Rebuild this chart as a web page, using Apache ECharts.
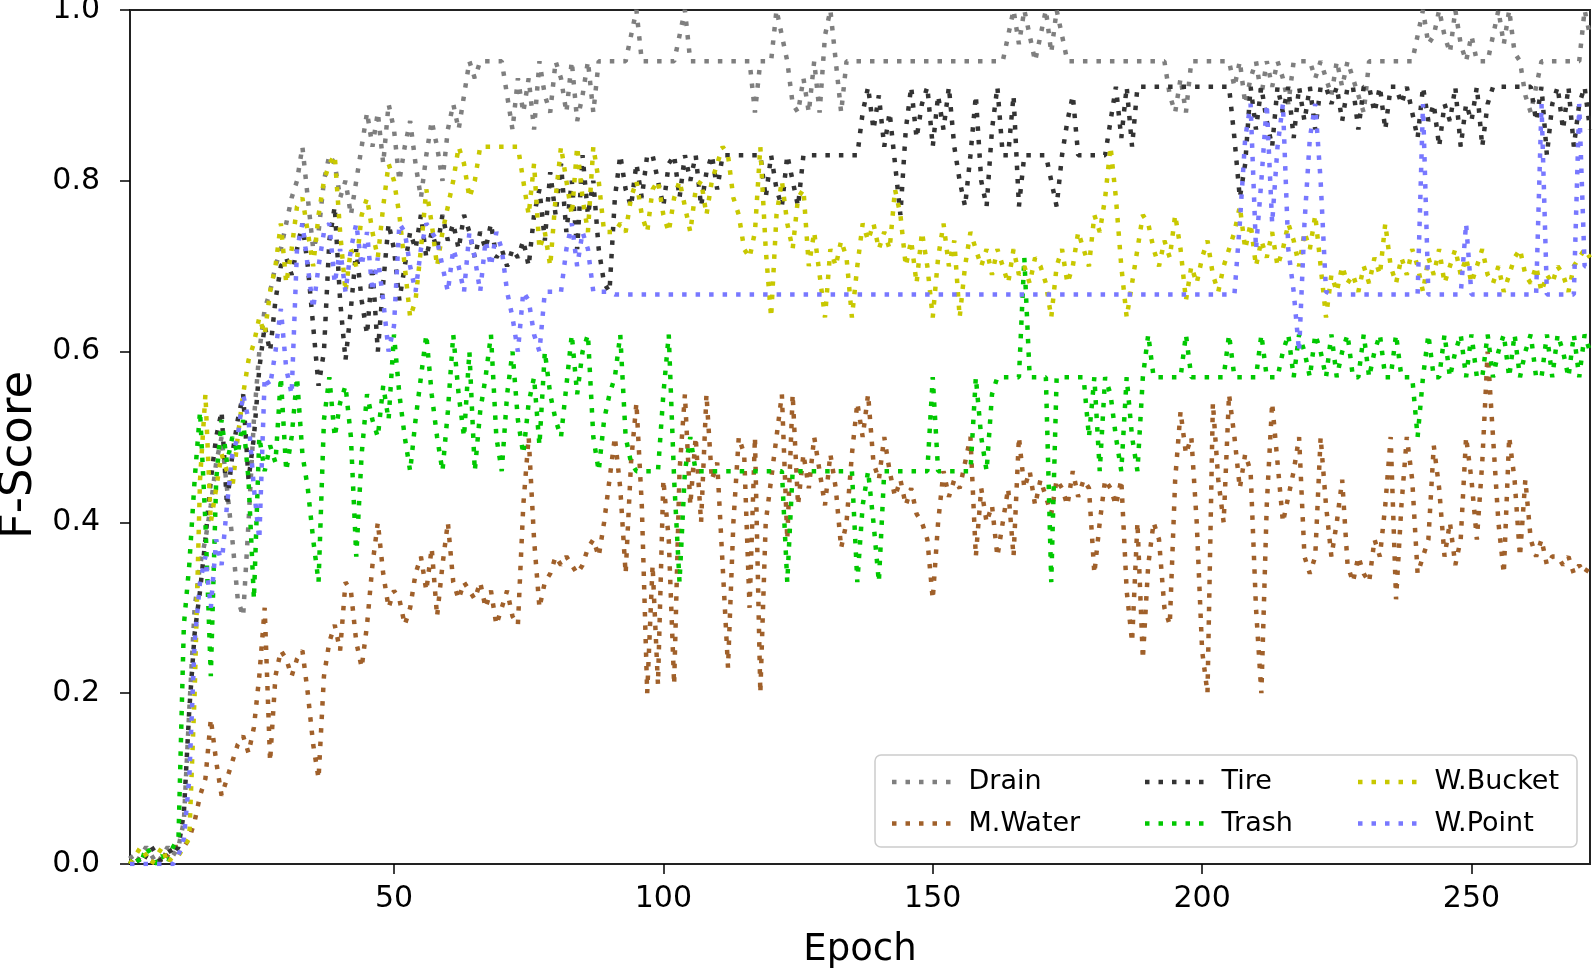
<!DOCTYPE html>
<html>
<head>
<meta charset="utf-8">
<script src="https://cdn.jsdelivr.net/npm/echarts@6/dist/echarts.min.js"></script>
<style>
html,body{margin:0;padding:0;background:#fff;}
#chart{width:1594px;height:969px;}
</style>
</head>
<body>
<div id="chart"></div>
<script>
// ---- data (one value per epoch, epoch 1..272) ----
const seriesNames = ['Drain', 'M.Water', 'Tire', 'Trash', 'W.Bucket', 'W.Point'];
const xTicks = [50, 100, 150, 200, 250];
const yTicks = [0, 0.2, 0.4, 0.6, 0.8, 1.0];

const drain = [
0.01,0.00,0.01,0.02,0.01,0.00,0.01,0.02,0.01,0.02,
0.05,0.18,0.30,0.35,0.38,0.42,0.47,0.50,0.44,0.38,
0.31,0.29,0.40,0.52,0.60,0.65,0.67,0.70,0.72,0.75,
0.78,0.80,0.84,0.78,0.72,0.74,0.80,0.83,0.82,0.78,
0.80,0.76,0.80,0.84,0.88,0.84,0.88,0.82,0.89,0.86,
0.80,0.84,0.87,0.82,0.78,0.83,0.87,0.84,0.80,0.86,
0.89,0.86,0.90,0.94,0.92,0.94,0.94,0.94,0.94,0.94,
0.90,0.86,0.92,0.88,0.92,0.86,0.94,0.90,0.88,0.94,
0.92,0.88,0.94,0.87,0.90,0.94,0.88,0.94,0.94,0.94,
0.94,0.94,0.94,0.97,1.00,0.94,0.94,0.94,0.94,0.94,
0.94,0.94,0.97,1.00,0.94,0.94,0.94,0.94,0.94,0.94,
0.94,0.94,0.94,0.94,0.94,0.94,0.88,0.94,0.94,0.94,
1.00,0.97,0.94,0.89,0.88,0.92,0.88,0.94,0.88,0.97,
1.00,0.94,0.88,0.94,0.94,0.94,0.94,0.94,0.94,0.94,
0.94,0.94,0.94,0.94,0.94,0.94,0.94,0.94,0.94,0.94,
0.94,0.94,0.94,0.94,0.94,0.94,0.94,0.94,0.94,0.94,
0.94,0.94,0.94,0.97,1.00,0.96,1.00,0.97,0.94,0.97,
1.00,0.95,1.00,0.97,0.94,0.94,0.94,0.94,0.94,0.94,
0.94,0.94,0.94,0.94,0.94,0.94,0.94,0.94,0.94,0.94,
0.94,0.94,0.94,0.90,0.88,0.92,0.88,0.94,0.94,0.94,
0.94,0.94,0.94,0.94,0.94,0.91,0.94,0.89,0.92,0.94,
0.90,0.94,0.91,0.94,0.92,0.89,0.94,0.94,0.94,0.94,
0.92,0.94,0.92,0.90,0.94,0.91,0.94,0.92,0.90,0.88,
0.94,0.94,0.94,0.94,0.94,0.94,0.94,0.94,0.94,0.97,
1.00,0.96,0.97,1.00,0.97,0.95,1.00,0.96,0.94,0.97,
0.94,0.94,0.94,0.97,1.00,0.96,1.00,0.95,0.94,0.90,
0.88,0.91,0.94,0.94,0.94,0.94,0.94,0.94,0.94,0.94,
1.00,0.97
];

const mWater = [
0.00,0.01,0.00,0.01,0.00,0.01,0.00,0.01,0.02,0.02,
0.02,0.03,0.05,0.08,0.10,0.17,0.12,0.08,0.10,0.12,
0.14,0.15,0.13,0.16,0.22,0.30,0.12,0.22,0.25,0.24,
0.22,0.24,0.25,0.20,0.14,0.10,0.22,0.26,0.28,0.25,
0.33,0.32,0.26,0.23,0.28,0.35,0.40,0.34,0.30,0.32,
0.31,0.28,0.30,0.34,0.36,0.32,0.37,0.29,0.35,0.40,
0.33,0.31,0.33,0.32,0.31,0.33,0.30,0.32,0.28,0.30,
0.32,0.29,0.28,0.42,0.50,0.38,0.30,0.33,0.34,0.36,
0.35,0.36,0.35,0.34,0.35,0.37,0.38,0.36,0.40,0.45,
0.50,0.44,0.34,0.47,0.54,0.42,0.20,0.35,0.21,0.45,
0.38,0.21,0.46,0.55,0.42,0.50,0.40,0.55,0.45,0.47,
0.35,0.23,0.40,0.50,0.48,0.30,0.50,0.20,0.40,0.45,
0.50,0.55,0.38,0.55,0.42,0.48,0.44,0.50,0.46,0.42,
0.48,0.44,0.37,0.40,0.48,0.54,0.50,0.55,0.47,0.45,
0.50,0.46,0.43,0.45,0.42,0.44,0.41,0.40,0.38,0.31,
0.40,0.46,0.43,0.45,0.44,0.47,0.50,0.36,0.44,0.40,
0.42,0.36,0.40,0.44,0.36,0.50,0.44,0.46,0.42,0.45,
0.43,0.41,0.45,0.44,0.42,0.46,0.43,0.45,0.44,0.34,
0.40,0.45,0.44,0.42,0.45,0.32,0.26,0.40,0.24,0.35,
0.40,0.38,0.30,0.28,0.45,0.53,0.48,0.50,0.40,0.25,
0.20,0.54,0.45,0.40,0.55,0.50,0.44,0.48,0.46,0.30,
0.20,0.42,0.54,0.47,0.40,0.43,0.46,0.50,0.36,0.34,
0.36,0.50,0.42,0.36,0.40,0.45,0.35,0.33,0.36,0.34,
0.33,0.38,0.36,0.42,0.50,0.31,0.42,0.50,0.45,0.34,
0.36,0.38,0.49,0.44,0.36,0.40,0.35,0.38,0.50,0.45,
0.38,0.47,0.60,0.50,0.40,0.34,0.50,0.45,0.36,0.45,
0.38,0.36,0.38,0.35,0.36,0.36,0.35,0.36,0.34,0.35,
0.34,0.35
];

const tire = [
0.00,0.01,0.00,0.01,0.02,0.01,0.00,0.02,0.01,0.02,
0.06,0.18,0.27,0.32,0.38,0.45,0.50,0.53,0.42,0.48,
0.52,0.55,0.45,0.50,0.58,0.63,0.60,0.66,0.70,0.71,
0.69,0.72,0.75,0.70,0.63,0.56,0.60,0.73,0.77,0.66,
0.59,0.65,0.72,0.66,0.62,0.70,0.60,0.68,0.75,0.72,
0.66,0.70,0.74,0.72,0.76,0.71,0.74,0.72,0.76,0.73,
0.75,0.72,0.76,0.74,0.71,0.74,0.72,0.75,0.71,0.72,
0.70,0.72,0.71,0.73,0.70,0.76,0.79,0.73,0.81,0.76,
0.82,0.74,0.80,0.72,0.83,0.76,0.80,0.72,0.68,0.67,
0.78,0.83,0.79,0.77,0.82,0.78,0.83,0.83,0.80,0.77,
0.82,0.83,0.78,0.83,0.80,0.83,0.77,0.81,0.83,0.79,
0.83,0.83,0.83,0.83,0.83,0.83,0.83,0.83,0.78,0.83,
0.79,0.77,0.83,0.80,0.77,0.83,0.83,0.83,0.83,0.83,
0.83,0.83,0.83,0.83,0.83,0.83,0.88,0.91,0.86,0.90,
0.84,0.88,0.82,0.76,0.86,0.91,0.85,0.89,0.91,0.84,
0.90,0.86,0.91,0.84,0.80,0.77,0.83,0.90,0.80,0.77,
0.86,0.91,0.83,0.83,0.90,0.77,0.83,0.83,0.83,0.83,
0.83,0.80,0.77,0.83,0.87,0.90,0.83,0.83,0.83,0.83,
0.83,0.83,0.87,0.91,0.85,0.91,0.84,0.91,0.91,0.91,
0.91,0.91,0.91,0.91,0.91,0.91,0.91,0.91,0.91,0.91,
0.91,0.91,0.91,0.91,0.91,0.85,0.78,0.82,0.91,0.86,
0.91,0.87,0.84,0.91,0.88,0.91,0.85,0.91,0.87,0.91,
0.86,0.91,0.91,0.89,0.91,0.87,0.91,0.91,0.86,0.91,
0.91,0.88,0.91,0.86,0.91,0.91,0.89,0.91,0.88,0.85,
0.91,0.87,0.89,0.84,0.89,0.87,0.91,0.84,0.89,0.87,
0.91,0.84,0.89,0.91,0.91,0.91,0.91,0.91,0.91,0.91,
0.91,0.87,0.91,0.83,0.89,0.91,0.86,0.91,0.84,0.89,
0.91,0.86
];

const trash = [
0.00,0.01,0.00,0.02,0.01,0.00,0.01,0.00,0.02,0.03,
0.28,0.35,0.45,0.53,0.40,0.22,0.45,0.52,0.47,0.50,
0.48,0.52,0.45,0.31,0.50,0.46,0.49,0.47,0.57,0.46,
0.50,0.57,0.48,0.44,0.38,0.33,0.52,0.57,0.50,0.54,
0.56,0.50,0.36,0.48,0.55,0.52,0.50,0.56,0.52,0.62,
0.55,0.50,0.46,0.52,0.57,0.62,0.55,0.50,0.46,0.53,
0.62,0.55,0.50,0.60,0.46,0.53,0.57,0.62,0.50,0.46,
0.55,0.60,0.52,0.48,0.54,0.57,0.49,0.60,0.55,0.52,
0.50,0.56,0.62,0.55,0.60,0.62,0.50,0.46,0.52,0.55,
0.57,0.62,0.50,0.47,0.46,0.46,0.46,0.46,0.46,0.55,
0.62,0.45,0.33,0.46,0.50,0.46,0.46,0.46,0.46,0.46,
0.46,0.46,0.46,0.46,0.46,0.46,0.46,0.46,0.46,0.46,
0.46,0.46,0.33,0.46,0.46,0.46,0.46,0.46,0.46,0.46,
0.46,0.46,0.46,0.46,0.46,0.33,0.42,0.46,0.40,0.33,
0.46,0.46,0.46,0.46,0.46,0.46,0.46,0.46,0.46,0.57,
0.46,0.46,0.46,0.46,0.46,0.46,0.46,0.57,0.50,0.46,
0.55,0.57,0.57,0.57,0.57,0.57,0.71,0.57,0.57,0.57,
0.57,0.33,0.57,0.57,0.57,0.57,0.57,0.57,0.50,0.57,
0.46,0.57,0.55,0.50,0.46,0.57,0.50,0.46,0.57,0.62,
0.57,0.57,0.57,0.57,0.57,0.57,0.62,0.57,0.57,0.57,
0.57,0.57,0.57,0.57,0.62,0.57,0.57,0.57,0.57,0.57,
0.62,0.57,0.57,0.57,0.60,0.62,0.57,0.62,0.60,0.57,
0.62,0.60,0.57,0.62,0.57,0.60,0.62,0.57,0.57,0.62,
0.57,0.60,0.62,0.57,0.57,0.62,0.57,0.57,0.57,0.50,
0.57,0.62,0.57,0.57,0.62,0.57,0.60,0.62,0.57,0.62,
0.57,0.57,0.62,0.57,0.60,0.62,0.57,0.62,0.57,0.60,
0.62,0.57,0.57,0.62,0.57,0.62,0.60,0.57,0.62,0.57,
0.62,0.60
];

const wBucket = [
0.00,0.01,0.02,0.01,0.00,0.01,0.02,0.00,0.01,0.01,
0.02,0.03,0.20,0.45,0.55,0.40,0.44,0.48,0.46,0.44,
0.50,0.55,0.59,0.61,0.64,0.62,0.67,0.70,0.75,0.68,
0.72,0.77,0.78,0.74,0.70,0.76,0.80,0.82,0.83,0.74,
0.67,0.72,0.70,0.76,0.78,0.74,0.71,0.77,0.82,0.80,
0.76,0.70,0.64,0.66,0.72,0.79,0.75,0.70,0.74,0.77,
0.80,0.84,0.82,0.78,0.80,0.84,0.84,0.84,0.84,0.84,
0.84,0.84,0.84,0.80,0.76,0.82,0.72,0.74,0.70,0.78,
0.84,0.80,0.76,0.84,0.78,0.74,0.84,0.80,0.74,0.74,
0.74,0.75,0.74,0.78,0.80,0.76,0.74,0.79,0.80,0.76,
0.74,0.78,0.80,0.77,0.74,0.79,0.80,0.76,0.80,0.82,
0.84,0.83,0.78,0.76,0.72,0.71,0.74,0.84,0.72,0.64,
0.76,0.80,0.75,0.72,0.78,0.79,0.70,0.74,0.69,0.64,
0.72,0.70,0.73,0.71,0.64,0.70,0.75,0.73,0.75,0.72,
0.74,0.72,0.79,0.76,0.70,0.73,0.68,0.74,0.70,0.64,
0.71,0.75,0.70,0.73,0.64,0.70,0.74,0.72,0.70,0.72,
0.69,0.72,0.70,0.68,0.72,0.69,0.70,0.68,0.71,0.70,
0.68,0.64,0.70,0.72,0.68,0.70,0.74,0.72,0.70,0.76,
0.74,0.78,0.84,0.78,0.70,0.64,0.68,0.72,0.76,0.75,
0.72,0.70,0.73,0.71,0.76,0.72,0.66,0.70,0.68,0.71,
0.73,0.69,0.67,0.70,0.72,0.74,0.77,0.72,0.75,0.70,
0.73,0.71,0.74,0.70,0.72,0.75,0.73,0.70,0.74,0.72,
0.76,0.70,0.64,0.69,0.67,0.70,0.68,0.69,0.67,0.70,
0.68,0.71,0.69,0.75,0.70,0.68,0.71,0.69,0.72,0.70,
0.67,0.71,0.69,0.72,0.68,0.70,0.72,0.69,0.71,0.68,
0.70,0.72,0.69,0.68,0.70,0.67,0.69,0.71,0.72,0.69,
0.68,0.70,0.67,0.69,0.68,0.70,0.69,0.67,0.70,0.71,
0.72,0.71
];

const wPoint = [
0.00,0.00,0.00,0.00,0.00,0.00,0.00,0.00,0.00,0.01,
0.03,0.10,0.26,0.33,0.36,0.30,0.38,0.35,0.42,0.48,
0.50,0.55,0.52,0.44,0.38,0.57,0.56,0.60,0.65,0.58,
0.55,0.72,0.75,0.70,0.65,0.70,0.74,0.75,0.68,0.72,
0.67,0.72,0.75,0.70,0.74,0.67,0.71,0.66,0.60,0.63,
0.75,0.74,0.70,0.67,0.72,0.75,0.74,0.73,0.70,0.67,
0.72,0.70,0.67,0.74,0.71,0.67,0.73,0.70,0.74,0.72,
0.67,0.64,0.60,0.67,0.66,0.62,0.60,0.67,0.67,0.67,
0.67,0.72,0.75,0.70,0.74,0.72,0.67,0.67,0.67,0.67,
0.667,0.667,0.667,0.667,0.667,0.667,0.667,0.667,0.667,0.667,
0.667,0.667,0.667,0.667,0.667,0.667,0.667,0.667,0.667,0.667,
0.667,0.667,0.667,0.667,0.667,0.667,0.667,0.667,0.667,0.667,
0.667,0.667,0.667,0.667,0.667,0.667,0.667,0.667,0.667,0.667,
0.667,0.667,0.667,0.667,0.667,0.667,0.667,0.667,0.667,0.667,
0.667,0.667,0.667,0.667,0.667,0.667,0.667,0.667,0.667,0.667,
0.667,0.667,0.667,0.667,0.667,0.667,0.667,0.667,0.667,0.667,
0.667,0.667,0.667,0.667,0.667,0.667,0.667,0.667,0.667,0.667,
0.667,0.667,0.667,0.667,0.667,0.667,0.667,0.667,0.667,0.667,
0.667,0.667,0.667,0.667,0.667,0.667,0.667,0.667,0.667,0.667,
0.667,0.667,0.667,0.667,0.667,0.667,0.667,0.667,0.667,0.667,
0.667,0.667,0.667,0.667,0.667,0.667,0.75,0.85,0.89,0.72,
0.80,0.89,0.75,0.84,0.89,0.72,0.67,0.60,0.75,0.85,
0.89,0.80,0.67,0.667,0.667,0.667,0.667,0.667,0.667,0.667,
0.667,0.667,0.667,0.667,0.667,0.667,0.667,0.667,0.667,0.667,
0.89,0.667,0.667,0.667,0.667,0.667,0.667,0.667,0.75,0.667,
0.667,0.667,0.667,0.667,0.667,0.667,0.667,0.667,0.667,0.667,
0.667,0.667,0.89,0.667,0.667,0.667,0.667,0.667,0.667,0.89,
0.70,0.70
];

const seriesValues = [drain, mWater, tire, trash, wBucket, wPoint];
const seriesColors = ['#7f7f7f', '#a0602a', '#333333', '#00c800', '#c8c800', '#7878ff'];

const FONT = 'DejaVu Sans';
const chart = echarts.init(document.getElementById('chart'), null, {renderer: 'canvas'});

const series = seriesNames.map((name, k) => ({
  name: name,
  type: 'line',
  data: seriesValues[k].map((v, i) => [i + 1, v]),
  showSymbol: false,
  symbol: 'none',
  animation: false,
  lineStyle: {color: seriesColors[k], width: 4.5, type: [4.5, 9], cap: 'butt'},
  itemStyle: {color: seriesColors[k]},
  z: 2 + k * 0.01
}));

// legend handle: five square dots, like the dotted line sample
const dotIcon = 'path://M0,0h4.5v4.5h-4.5z M13.5,0h4.5v4.5h-4.5z M27,0h4.5v4.5h-4.5z M40.5,0h4.5v4.5h-4.5z M54,0h4.5v4.5h-4.5z';

const legendCommon = {
  orient: 'vertical',
  top: 763,
  icon: dotIcon,
  itemWidth: 58.5,
  itemHeight: 4.5,
  itemGap: 13.5,
  selectedMode: false,
  textStyle: {fontFamily: FONT, fontSize: 27, color: '#000', lineHeight: 28, padding: [0, 0, 0, 13]},
  z: 10
};

chart.setOption({
  animation: false,
  backgroundColor: '#fff',
  grid: {left: 130, right: 4, top: 10, bottom: 105, show: true, borderColor: '#222', borderWidth: 2,
         backgroundColor: 'transparent', containLabel: false, outerBoundsMode: 'none'},
  xAxis: {
    type: 'value', min: 1, max: 272,
    name: 'Epoch', nameLocation: 'middle', nameGap: 68,
    nameTextStyle: {fontFamily: FONT, fontSize: 37, color: '#000'},
    axisLine: {show: false},
    axisTick: {show: true, inside: false, length: 10, lineStyle: {color: '#000', width: 1.5}, customValues: xTicks},
    axisLabel: {fontFamily: FONT, fontSize: 30, color: '#000', margin: 20, customValues: xTicks},
    splitLine: {show: false}
  },
  yAxis: {
    type: 'value', min: 0, max: 1, interval: 0.2,
    name: 'F-Score', nameLocation: 'middle', nameGap: 85,
    nameTextStyle: {fontFamily: FONT, fontSize: 45, color: '#000', padding: [0, 36, 0, 0]},
    axisLine: {show: false},
    axisTick: {show: true, inside: false, length: 10, lineStyle: {color: '#000', width: 1.5}},
    axisLabel: {fontFamily: FONT, fontSize: 30, color: '#000', margin: 30, formatter: v => v.toFixed(1)},
    splitLine: {show: false}
  },
  legend: [
    Object.assign({}, legendCommon, {left: 887, data: [seriesNames[0], seriesNames[1]]}),
    Object.assign({}, legendCommon, {left: 1140, data: [seriesNames[2], seriesNames[3]]}),
    Object.assign({}, legendCommon, {left: 1353, data: [seriesNames[4], seriesNames[5]]})
  ],
  graphic: [{
    type: 'rect', z: 9,
    shape: {x: 875, y: 755, width: 702, height: 92, r: 6},
    style: {fill: 'rgba(255,255,255,0.85)', stroke: '#cccccc', lineWidth: 1.5}
  }],
  series: series
});
</script>
</body>
</html>
